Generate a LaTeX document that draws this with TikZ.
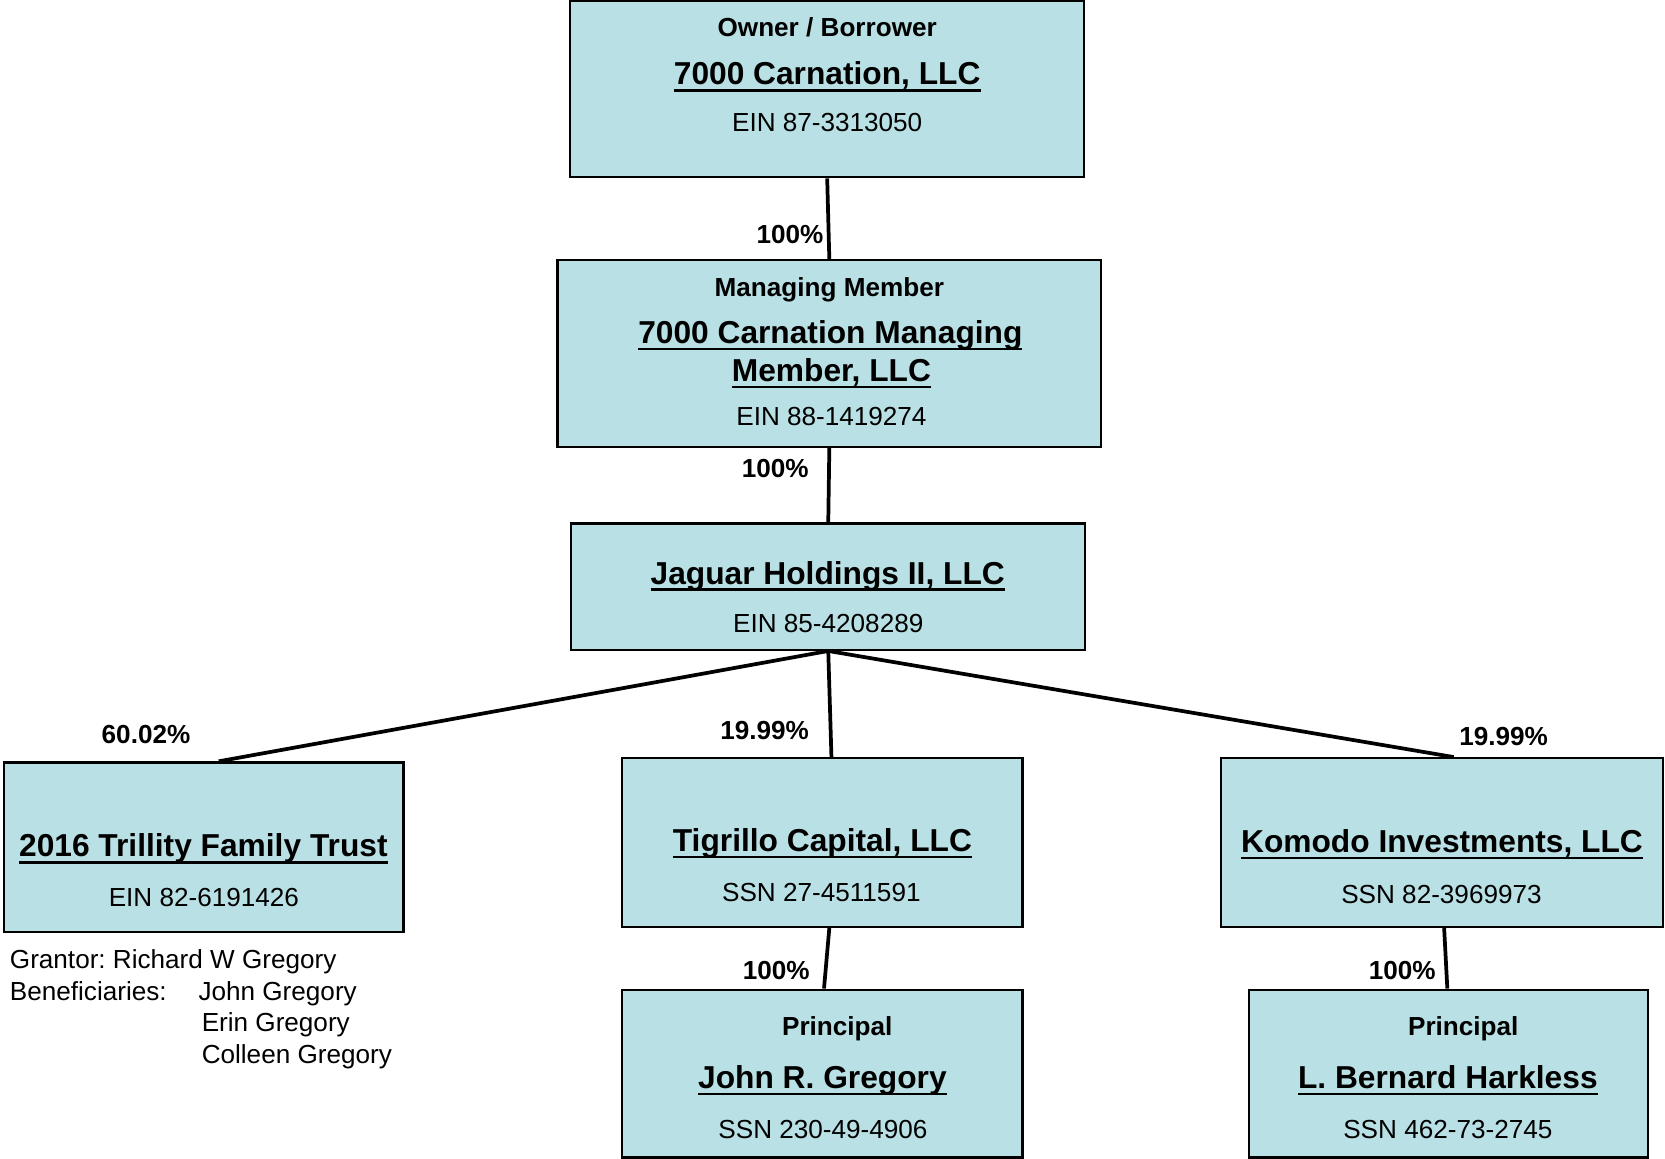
\documentclass[tikz,border=0pt]{standalone}
\usepackage{fontspec}
\setmainfont{Liberation Sans}
\usepackage{tikz}
\usetikzlibrary{calc}
\frenchspacing
\definecolor{chartblue}{RGB}{185,224,228}
\newsavebox{\ulbox}
\newcommand{\ulname}[1]{\sbox{\ulbox}{#1}\rlap{\rule[-3.6pt]{\wd\ulbox}{1.3pt}}\usebox{\ulbox}}
\tikzstyle{entity} = [
    rectangle,
    draw = black,
    line width = 1.2pt,
    fill = chartblue,
    inner sep = 0pt,
]
\tikzstyle{role} = [font = \fontsize{14}{17}\selectfont\bfseries, anchor = base, inner sep = 0pt]
\tikzstyle{entname} = [font = \fontsize{17}{20}\selectfont\bfseries, anchor = base, inner sep = 0pt]
\tikzstyle{taxid} = [font = \fontsize{14}{17}\selectfont, anchor = base, inner sep = 0pt]
\tikzstyle{share} = [font = \fontsize{14}{17}\selectfont\bfseries, anchor = base, inner sep = 0pt]
\tikzstyle{link} = [line width = 2pt]

\begin{document}
\begin{tikzpicture} [x = 0.02cm, y = -0.02cm]
    \useasboundingbox (0, 0) rectangle (1568, 1091);

    % boxes
    \node (owner) [entity, minimum width = 9.68cm, minimum height = 3.32cm] at (779, 84) {};
    \node (managing) [entity, minimum width = 10.24cm, minimum height = 3.52cm] at (781, 333) {};
    \node (jaguar) [entity, minimum width = 9.68cm, minimum height = 2.38cm] at (780, 552.5) {};
    \node (trust) [entity, minimum width = 7.52cm, minimum height = 3.2cm] at (192, 798) {};
    \node (tigrillo) [entity, minimum width = 7.54cm, minimum height = 3.18cm] at (774.5, 793.5) {};
    \node (komodo) [entity, minimum width = 8.32cm, minimum height = 3.18cm] at (1358, 793.5) {};
    \node (john) [entity, minimum width = 7.54cm, minimum height = 3.16cm] at (774.5, 1011) {};
    \node (harkless) [entity, minimum width = 7.52cm, minimum height = 3.16cm] at (1364, 1011) {};

    % box texts
    \node (ownerRole) [role] at (779, 34) {Owner / Borrower};
    \node (ownerName) [entname] at (779, 80) {\ulname{7000 Carnation, LLC}};
    \node (ownerId) [taxid] at (779, 124) {EIN 87-3313050};

    \node (managingRole) [role] at (781, 279) {Managing Member};
    \node (managingName) [entname] at (782, 323.5) {\ulname{7000 Carnation Managing}};
    \node (managingName2) [entname] at (783, 359.5) {\ulname{Member, LLC}};
    \node (managingId) [taxid] at (783, 401) {EIN 88-1419274};

    \node (jaguarName) [entname] at (779.5, 550) {\ulname{Jaguar Holdings II, LLC}};
    \node (jaguarId) [taxid] at (780, 596) {EIN 85-4208289};

    \node (trustName) [entname] at (191.5, 807) {\ulname{2016 Trillity Family Trust}};
    \node (trustId) [taxid] at (192, 854) {EIN 82-6191426};

    \node (tigrilloName) [entname] at (774.5, 802) {\ulname{Tigrillo Capital, LLC}};
    \node (tigrilloId) [taxid] at (773.5, 849) {SSN 27-4511591};

    \node (komodoName) [entname] at (1358, 803) {\ulname{Komodo Investments, LLC}};
    \node (komodoId) [taxid] at (1357.5, 851) {SSN 82-3969973};

    \node (johnRole) [role] at (788.5, 975) {Principal};
    \node (johnName) [entname] at (774.5, 1025) {\ulname{John R. Gregory}};
    \node (johnId) [taxid] at (775, 1072) {SSN 230-49-4906};

    \node (harklessRole) [role] at (1378, 975) {Principal};
    \node (harklessName) [entname] at (1363.5, 1025) {\ulname{L. Bernard Harkless}};
    \node (harklessId) [taxid] at (1363.5, 1072) {SSN 462-73-2745};

    % trust note
    \node (grantor) [anchor = base west, inner sep = 0pt, font = \fontsize{14}{17}\selectfont] at (9, 912) {%
        \begin{tabular}[t]{@{}l@{\hspace{0.6cm}}l@{}}
            \multicolumn{2}{@{}l@{}}{Grantor: Richard W Gregory}\\
            Beneficiaries: & John Gregory\\
             & \hspace{0.06cm}Erin Gregory\\
             & \hspace{0.06cm}Colleen Gregory
        \end{tabular}};

    % connectors
    \draw[link] (owner.south) -- (managing.north);
    \draw[link] (managing.south) -- (jaguar.north);
    \draw[link] (jaguar.south) -- ([xshift = 0.28cm]trust.north);
    \draw[link] (jaguar.south) -- ([xshift = 0.17cm]tigrillo.north);
    \draw[link] (jaguar.south) -- ([xshift = 0.22cm]komodo.north);
    \draw[link] ([xshift = 0.13cm]tigrillo.south) -- ([xshift = 0.03cm]john.north);
    \draw[link] ([xshift = 0.04cm]komodo.south) -- ([xshift = -0.02cm]harkless.north);

    % shares
    \node (shareManaging) [share] at (744, 229) {100\%};
    \node (shareJaguar) [share] at (730, 450) {100\%};
    \node (shareTrust) [share] at (137.5, 700) {60.02\%};
    \node (shareTigrillo) [share] at (720, 696) {19.99\%};
    \node (shareKomodo) [share] at (1416, 702) {19.99\%};
    \node (shareJohn) [share] at (731, 922) {100\%};
    \node (shareHarkless) [share] at (1320.5, 922) {100\%};
\end{tikzpicture}
\end{document}
